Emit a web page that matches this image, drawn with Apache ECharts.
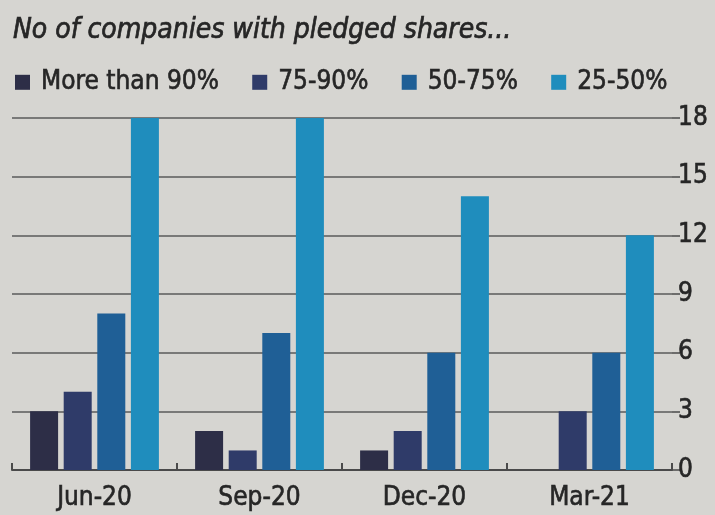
<!DOCTYPE html>
<html><head><meta charset="utf-8">
<script src="https://cdn.jsdelivr.net/npm/echarts@6/dist/echarts.min.js"></script>
<style>html,body{margin:0;padding:0;background:#d6d5d1;}#c{width:715px;height:515px;}</style>
</head><body><div id="c"></div>
<script>
const categories = ['Jun-20','Sep-20','Dec-20','Mar-21'];
const seriesNames = ['More than 90%','75-90%','50-75%','25-50%'];
const moreThan90 = [3, 2, 1, 0];
const p75to90 = [4, 1, 2, 3];
const p50to75 = [8, 7, 6, 6];
const p25to50 = [18, 18, 14, 12];
const yTicks = [0, 3, 6, 9, 12, 15, 18];
const colors = ['#2d2e47', '#2f3b69', '#1f5f96', '#1f8dbd'];
const FONT = "'Liberation Sans Narrow','DejaVu Sans Condensed',sans-serif";
const TXT = '#262626';
const data = [moreThan90, p75to90, p50to75, p25to50];
const chart = echarts.init(document.getElementById('c'));
chart.setOption({
  backgroundColor: '#d6d5d1',
  animation: false,
  title: { text: 'No of companies with pledged shares...', left: 8, top: 12,
    textStyle: { fontFamily: FONT, fontStyle: 'italic', fontWeight: 'normal', fontSize: 28, color: TXT,
      textBorderColor: TXT, textBorderWidth: 0.7 } },
  legend: { left: 10, top: 64, itemWidth: 15, itemHeight: 15, itemGap: 33, icon: 'rect',
    data: seriesNames,
    textStyle: { fontFamily: FONT, fontSize: 26, color: TXT, padding: [0,0,0,6],
      textBorderColor: TXT, textBorderWidth: 0.6 } },
  grid: { left: 12, right: 43, top: 118, bottom: 45 },
  xAxis: { type: 'category', data: categories,
    axisLine: { lineStyle: { color: '#4a4a4a', width: 2 } },
    axisTick: { show: true, inside: true, length: 7, lineStyle: { color: '#4a4a4a', width: 2 } },
    axisLabel: { fontFamily: FONT, fontSize: 26, color: TXT, margin: 15,
      textBorderColor: TXT, textBorderWidth: 0.6 } },
  yAxis: { type: 'value', position: 'right', min: 0, max: 18, interval: 3,
    axisLine: { show: false },
    axisTick: { show: true, length: 8, lineStyle: { color: '#4a4a4a', width: 1.5 } },
    splitLine: { lineStyle: { color: '#5a5a5a', width: 1.5 } },
    axisLabel: { fontFamily: FONT, fontSize: 26, color: TXT, margin: 6,
      textBorderColor: TXT, textBorderWidth: 0.6,
      formatter: v => yTicks.includes(v) ? String(v) : '' } },
  series: seriesNames.map((n, i) => ({
    name: n, type: 'bar', data: data[i], barWidth: 28, barGap: '20%',
    itemStyle: { color: colors[i] }
  }))
});
</script></body></html>
